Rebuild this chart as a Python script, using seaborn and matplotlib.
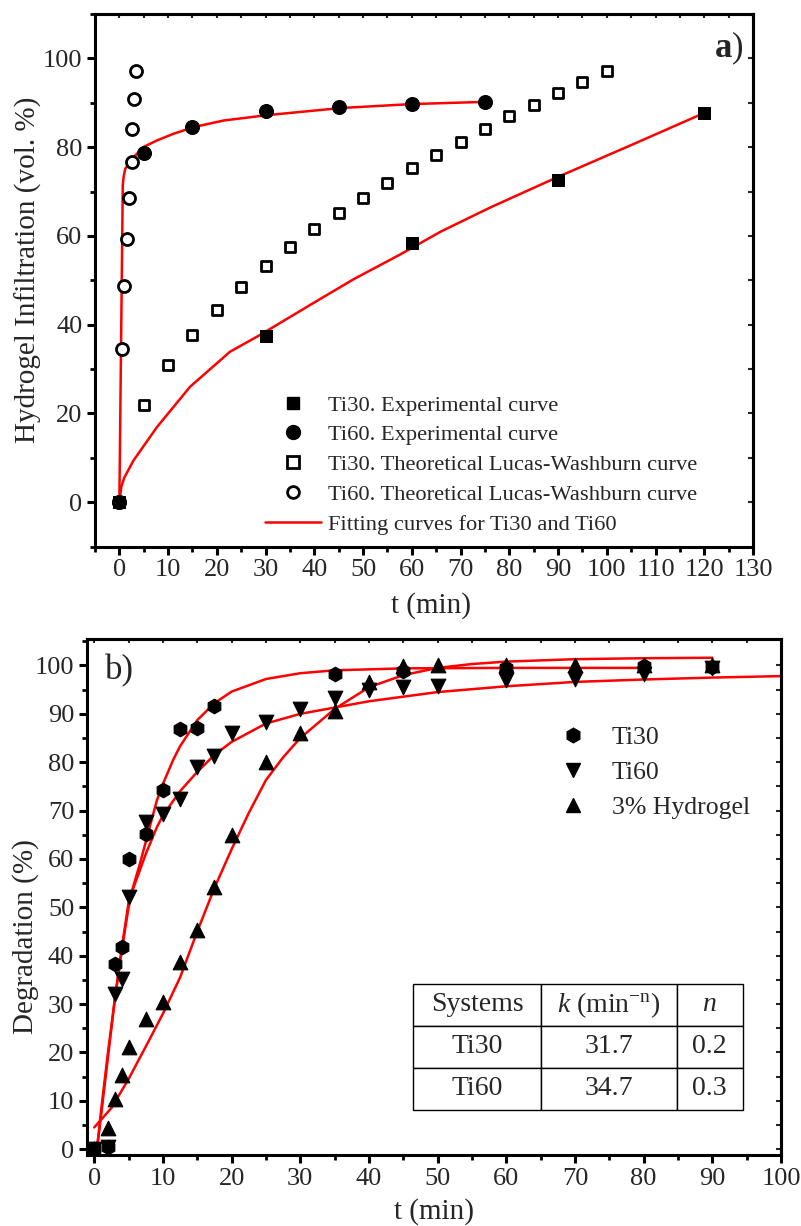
import numpy as np
import pandas as pd
import matplotlib
matplotlib.use("Agg")
import matplotlib.pyplot as plt
from matplotlib.lines import Line2D
from matplotlib.ticker import MultipleLocator
import seaborn as sns

sns.set_theme(style="white")
plt.rcParams['font.family'] = ['Liberation Serif', 'DejaVu Serif']
plt.rcParams['mathtext.fontset'] = 'custom'
plt.rcParams['mathtext.rm'] = 'Liberation Serif'
plt.rcParams['mathtext.it'] = 'Liberation Serif:italic'
plt.rcParams['mathtext.bf'] = 'Liberation Serif:bold'

# ---------------- Panel a data ----------------
a_ti30_exp_t = [0, 30, 60, 90, 120]
a_ti30_exp_v = [0, 37.5, 58.5, 72.6, 87.7]
a_ti60_exp_t = [0, 5, 15, 30, 45, 60, 75]
a_ti60_exp_v = [0, 78.6, 84.5, 88.1, 89.1, 89.7, 90.2]
a_ti30_lw_t = [0, 5, 10, 15, 20, 25, 30, 35, 40, 45, 50, 55, 60, 65, 70, 75, 80, 85, 90, 95, 100]
a_ti30_lw_v = [0, 21.8, 30.8, 37.7, 43.4, 48.5, 53.2, 57.5, 61.5, 65.2, 68.6, 72.0, 75.2, 78.3, 81.2, 84.0, 86.9, 89.6, 92.1, 94.7, 97.1]
a_ti60_lw_t = [0, 0.5, 1, 1.5, 2, 2.5, 2.5, 3, 3.5]
a_ti60_lw_v = [0, 34.4, 48.6, 59.4, 68.5, 76.7, 84.1, 90.8, 97.1]
a_fit30_t = [0, 0.4, 1.0, 2.9, 7.7, 14.5, 22.7, 28.9, 40, 48, 57.6, 66, 76.1, 90, 105.5, 120]
a_fit30_v = [0, 3.5, 5.5, 9.4, 16.9, 26.0, 33.9, 37.7, 45.0, 50.2, 55.8, 61.0, 66.4, 73.3, 80.7, 87.7]
a_fit60_t = [0, 0.35, 0.7, 0.9, 1.2, 2.9, 4.9, 7.7, 11.1, 15.2, 21.4, 30.3, 45.3, 60, 75]
a_fit60_v = [0, 36, 71.5, 73.5, 75.1, 77.7, 80.0, 81.5, 83.0, 84.5, 86.0, 87.2, 88.8, 89.7, 90.2]

# ---------------- Panel b data ----------------
b_ti30_t = [0, 2, 3, 4, 5, 7.5, 10, 12.5, 15, 17.5, 35, 45, 60, 80, 90]
b_ti30_v = [0, 0.5, 38.3, 41.8, 60.0, 65.2, 74.3, 86.8, 87.1, 91.7, 98.3, 98.8, 99.4, 99.9, 99.6]
b_ti60_t = [0, 2, 3, 4, 5, 7.5, 10, 12.5, 15, 17.5, 20, 25, 30, 35, 40, 45, 50, 60, 70, 80, 90]
b_ti60_v = [0, 0.5, 32.0, 35.2, 52.2, 67.6, 69.4, 72.5, 79.0, 81.3, 86.0, 88.3, 91.1, 93.2, 95.0, 95.6, 95.8, 97.0, 97.3, 98.2, 99.5]
b_gel_t = [0, 2, 3, 4, 5, 7.5, 10, 12.5, 15, 17.5, 20, 25, 30, 35, 40, 45, 50, 60, 70, 80, 90]
b_gel_v = [0, 4.3, 10.3, 15.3, 21.2, 27.0, 30.5, 38.6, 45.4, 54.3, 65.0, 80.0, 86.0, 90.5, 96.5, 99.8, 100.0, 100.0, 100.0, 100.0, 100.0]
b_fit30_t = [0.3, 1, 2, 3, 4, 5, 6.65, 7.5, 9.1, 10, 11.5, 12.5, 15, 17.5, 20, 25, 30, 35, 45, 60, 80]
b_fit30_v = [-1.2, 7, 19, 31, 41.5, 51, 59, 63.5, 72, 75.5, 80.5, 83.3, 88.7, 92.2, 94.6, 97.2, 98.4, 99.0, 99.4, 99.5, 99.5]
b_fit60_t = [0.3, 1, 2, 3, 4, 5, 5.7, 7.5, 9.1, 10, 12.5, 15, 17.5, 20, 25, 30, 35, 40, 50, 60, 70, 80, 90, 100]
b_fit60_v = [-1.2, 8, 20, 31, 41, 50, 54, 61, 66.5, 69, 74, 78, 81.5, 84.2, 88, 90, 91.3, 92.6, 94.5, 95.7, 96.6, 97.1, 97.5, 97.8]
b_fitgel_t = [0, 2.5, 5, 7.5, 10, 12.5, 15, 17.5, 20, 22.5, 25, 27.5, 30, 35, 40, 45, 50, 55, 60, 70, 80, 90]
b_fitgel_v = [4.5, 8.5, 14.5, 21.2, 28, 35.5, 45, 54, 62, 69.5, 76.3, 81, 85, 91, 95.5, 98, 99.5, 100.3, 100.8, 101.3, 101.5, 101.6]

table_cols = ["Systems", r"$k$ (min$^{\mathrm{-n}}$)", r"$n$"]
table_rows = [["Ti30", "31.7", "0.2"], ["Ti60", "34.7", "0.3"]]

RED = "#ff0000"
TICK_FS = 19
LAB_FS = 21

fig = plt.figure(figsize=(8.01, 12.26), dpi=100)
fig.patch.set_facecolor("white")

# ================= Panel a =================
ax = fig.add_axes([0.1186, 0.5542, 0.8215, 0.4344])
sns.lineplot(x=a_fit30_t, y=a_fit30_v, ax=ax, color=RED, lw=1.8, sort=False, estimator=None, zorder=2)
sns.lineplot(x=a_fit60_t, y=a_fit60_v, ax=ax, color=RED, lw=1.8, sort=False, estimator=None, zorder=2)
sns.scatterplot(x=a_ti30_lw_t, y=a_ti30_lw_v, ax=ax, marker="s", s=55, facecolor="white",
                edgecolor="black", linewidth=2, zorder=3)
sns.scatterplot(x=a_ti60_lw_t, y=a_ti60_lw_v, ax=ax, marker="o", s=75, facecolor="white",
                edgecolor="black", linewidth=2, zorder=3)
sns.scatterplot(x=a_ti30_exp_t, y=a_ti30_exp_v, ax=ax, marker="s", s=85, color="black",
                edgecolor="black", zorder=4)
sns.scatterplot(x=a_ti60_exp_t, y=a_ti60_exp_v, ax=ax, marker="o", s=100, color="black",
                edgecolor="black", zorder=4)

ax.set_xlim(-5, 130)
ax.set_ylim(-10, 110)
ax.xaxis.set_major_locator(MultipleLocator(10))
ax.xaxis.set_minor_locator(MultipleLocator(5))
ax.yaxis.set_major_locator(MultipleLocator(20))
ax.yaxis.set_minor_locator(MultipleLocator(10))
ax.set_yticks([0, 20, 40, 60, 80, 100])
ax.set_xlabel("t (min)", fontsize=LAB_FS)
ax.set_ylabel("Hydrogel Infiltration (vol. %)", fontsize=LAB_FS)
ax.xaxis.label.set_verticalalignment("center")
ax.yaxis.label.set_verticalalignment("center")
ax.xaxis.set_label_coords(0.51, -0.110)
ax.yaxis.set_label_coords(-0.1018, 0.519)

handles_a = [
    Line2D([], [], ls="none", marker="s", ms=9, mfc="black", mec="black"),
    Line2D([], [], ls="none", marker="o", ms=10, mfc="black", mec="black"),
    Line2D([], [], ls="none", marker="s", ms=8, mfc="white", mec="black", mew=2),
    Line2D([], [], ls="none", marker="o", ms=8.5, mfc="white", mec="black", mew=2),
    Line2D([], [], color=RED, lw=1.8),
]
labels_a = ["Ti30. Experimental curve", "Ti60. Experimental curve",
            "Ti30. Theoretical Lucas-Washburn curve", "Ti60. Theoretical Lucas-Washburn curve",
            "Fitting curves for Ti30 and Ti60"]
ax.legend(handles_a, labels_a, loc="upper left", bbox_to_anchor=(0.2576, 0.285),
          frameon=False, fontsize=16.2, handlelength=2.5, handletextpad=0.3,
          labelspacing=0.4, borderpad=0, borderaxespad=0)
ax.text(0.985, 0.935, r"$\mathbf{a}$)", transform=ax.transAxes, ha="right", va="center",
        fontsize=25)

# ================= Panel b =================
bx = fig.add_axes([0.1082, 0.0579, 0.8668, 0.4206])
sns.lineplot(x=b_fit30_t, y=b_fit30_v, ax=bx, color=RED, lw=1.8, sort=False, estimator=None, zorder=2)
sns.lineplot(x=b_fit60_t, y=b_fit60_v, ax=bx, color=RED, lw=1.8, sort=False, estimator=None, zorder=2)
sns.lineplot(x=b_fitgel_t, y=b_fitgel_v, ax=bx, color=RED, lw=1.8, sort=False, estimator=None, zorder=2)
sns.scatterplot(x=b_ti30_t, y=b_ti30_v, ax=bx, marker="h", s=110, color="black",
                edgecolor="black", zorder=3)
sns.scatterplot(x=b_ti60_t, y=b_ti60_v, ax=bx, marker="v", s=110, color="black",
                edgecolor="black", zorder=3)
sns.scatterplot(x=b_gel_t, y=b_gel_v, ax=bx, marker="^", s=110, color="black",
                edgecolor="black", zorder=3)

bx.set_xlim(-1.1, 100)
bx.set_ylim(-1.2, 105.4)
bx.xaxis.set_major_locator(MultipleLocator(10))
bx.xaxis.set_minor_locator(MultipleLocator(5))
bx.yaxis.set_major_locator(MultipleLocator(10))
bx.yaxis.set_minor_locator(MultipleLocator(5))
bx.set_yticks(list(range(0, 101, 10)))
bx.set_xlabel("t (min)", fontsize=LAB_FS)
bx.set_ylabel("Degradation (%)", fontsize=LAB_FS)
bx.xaxis.label.set_verticalalignment("center")
bx.yaxis.label.set_verticalalignment("center")
bx.xaxis.set_label_coords(0.5, -0.1105)
bx.yaxis.set_label_coords(-0.0874, 0.423)

handles_b = [
    Line2D([], [], ls="none", marker="h", ms=10.5, mfc="black", mec="black"),
    Line2D([], [], ls="none", marker="v", ms=10.5, mfc="black", mec="black"),
    Line2D([], [], ls="none", marker="^", ms=10.5, mfc="black", mec="black"),
]
bx.legend(handles_b, ["Ti30", "Ti60", "3% Hydrogel"], loc="upper left",
          bbox_to_anchor=(0.673, 0.832), frameon=False, fontsize=18.5,
          handlelength=1.5, handletextpad=0.75, labelspacing=0.47,
          borderpad=0, borderaxespad=0)
bx.text(0.026, 0.94, "b)", transform=bx.transAxes, ha="left", va="center", fontsize=25)

tbl = bx.table(cellText=table_rows, colLabels=table_cols, cellLoc="center",
               colWidths=[0.387, 0.413, 0.2], bbox=[0.4704, 0.0878, 0.4744, 0.2438])
tbl.auto_set_font_size(False)
tbl.set_fontsize(20)
for cell in tbl.get_celld().values():
    cell.set_linewidth(1.0)
    cell.set_edgecolor("black")
    cell.set_facecolor("white")
tbl.set_zorder(5)

for a in (ax, bx):
    a.set_facecolor("white")
    for sp in a.spines.values():
        sp.set_visible(True)
        sp.set_color("black")
        sp.set_linewidth(2.2)
    a.tick_params(axis="both", which="major", direction="out", length=6, width=2.2,
                  labelsize=TICK_FS, color="black", pad=3,
                  bottom=True, left=True, top=False, right=False)
    a.tick_params(axis="both", which="minor", direction="out", length=3.5, width=2,
                  color="black", bottom=True, left=True, top=False, right=False)
    lo, hi = a.get_xlim()
    start = np.ceil(lo / 5.0) * 5.0
    sec_x = a.secondary_xaxis("top")
    sec_x.set_xticks(np.arange(start, hi + 0.01, 5))
    sec_x.tick_params(direction="in", length=3, width=1.5, labeltop=False)
    sec_x.spines["top"].set_linewidth(2.2)
    sec_y = a.secondary_yaxis("right")
    sec_y.set_yticks(np.arange(0, 101, 5 if a is bx else 10))
    sec_y.tick_params(direction="in", length=3.5, width=1.5, labelright=False)
    sec_y.spines["right"].set_linewidth(2.2)

fig.savefig("out.png", dpi=100, facecolor="white")
